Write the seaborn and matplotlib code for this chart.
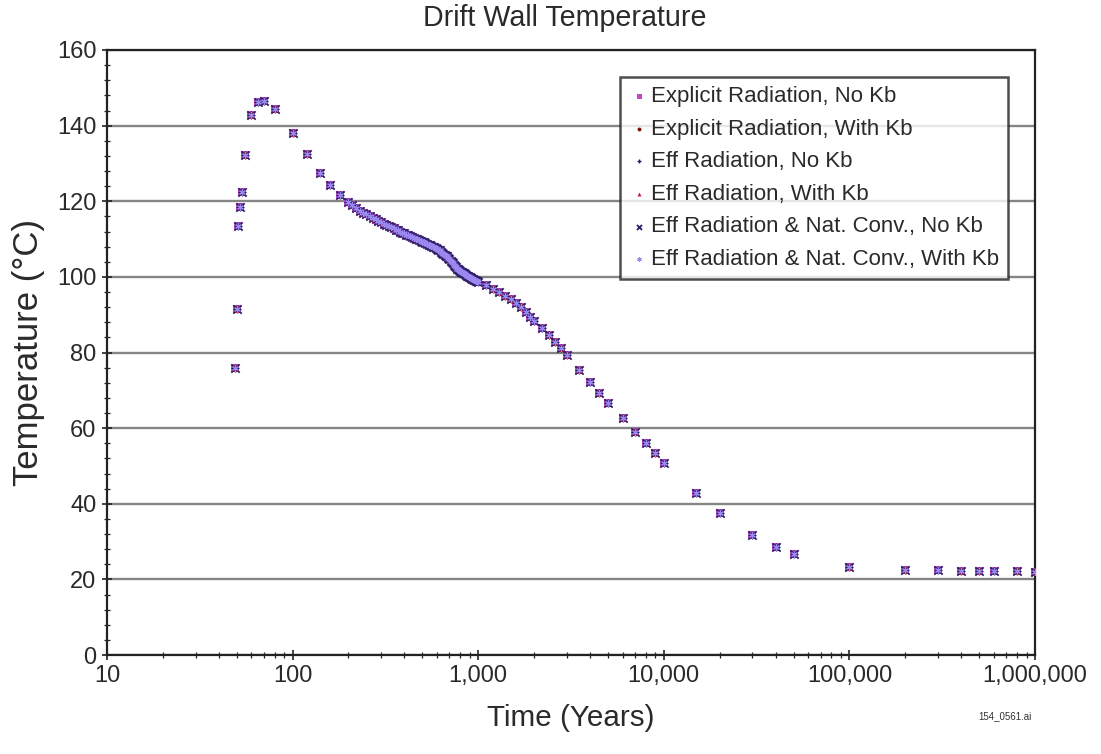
import matplotlib
matplotlib.use("Agg")
import matplotlib.pyplot as plt
import seaborn as sns
from matplotlib.ticker import FuncFormatter, LogLocator, MultipleLocator, NullFormatter

# ---------------- data ----------------
years_early = [49, 50.2, 50.8, 52, 53.5, 55.5, 60, 65, 70, 80, 100, 120, 140, 160, 180]
temps_early = [76.0, 91.5, 113.5, 118.5, 122.5, 132.3, 142.9, 146.3, 146.4, 144.3,
               138.0, 132.4, 127.6, 124.4, 121.7]

years_mid = [200, 210, 220, 230, 240, 250, 260, 270, 280, 290,
             300, 310, 320, 330, 340, 350, 360, 370, 380, 390,
             400, 410, 420, 430, 440, 450, 460, 470, 480, 490,
             500, 510, 520, 530, 540, 550, 560, 570, 580, 590,
             600, 610, 620, 630, 640, 650, 660, 670, 680, 690,
             700, 710, 720, 730, 740, 750, 760, 770, 780, 790,
             800, 810, 820, 830, 840, 850, 860, 870, 880, 890,
             900, 910, 920, 930, 940, 950, 960, 970, 980, 990, 1000]
temps_mid = [119.7, 118.9, 118.2, 117.5, 117.0, 116.6, 116.1, 115.7, 115.2, 114.8,
             114.5, 114.1, 113.8, 113.4, 113.2, 112.8, 112.5, 112.3, 112.0, 111.7,
             111.5, 111.2, 111.0, 110.8, 110.6, 110.3, 110.1, 109.9, 109.7, 109.5,
             109.3, 109.1, 108.9, 108.7, 108.5, 108.4, 108.2, 108.0, 107.8, 107.7,
             107.5, 107.2, 107.0, 106.7, 106.4, 106.1, 105.9, 105.6, 105.4, 105.0,
             104.6, 104.3, 103.9, 103.6, 103.2, 102.9, 102.5, 102.2, 102.0, 101.8,
             101.6, 101.4, 101.2, 101.0, 100.9, 100.7, 100.5, 100.3, 100.2, 100.0,
             99.9, 99.8, 99.6, 99.5, 99.4, 99.2, 99.1, 99.0, 98.9, 98.8, 98.7]

years_late = [1100, 1200, 1300, 1400, 1500, 1600, 1700, 1800, 1900, 2000,
              2200, 2400, 2600, 2800, 3000, 3500, 4000, 4500, 5000,
              6000, 7000, 8000, 9000, 10000, 15000, 20000, 30000, 40000, 50000,
              100000, 200000, 300000, 400000, 500000, 600000, 800000, 1000000]
temps_late = [97.9, 96.9, 96.0, 94.9, 94.1, 93.0, 92.0, 90.8, 89.5, 88.3,
              86.5, 84.7, 82.8, 81.2, 79.4, 75.4, 72.2, 69.3, 66.7,
              62.7, 59.0, 56.1, 53.4, 50.8, 42.9, 37.6, 31.7, 28.6, 26.8,
              23.3, 22.5, 22.5, 22.3, 22.2, 22.2, 22.2, 21.9]

years = years_early + years_mid + years_late
temperature = temps_early + temps_mid + temps_late

series_names = ["Explicit Radiation, No Kb",
                "Explicit Radiation, With Kb",
                "Eff Radiation, No Kb",
                "Eff Radiation, With Kb",
                "Eff Radiation & Nat. Conv., No Kb",
                "Eff Radiation & Nat. Conv., With Kb"]
# all six cases give practically identical curves in the reference
series_temps = [temperature] * 6

x_tick_values = [10, 100, 1000, 10000, 100000, 1000000]
y_tick_values = [0, 20, 40, 60, 80, 100, 120, 140, 160]

# ---------------- styling ----------------
markers = ["s", "o", "+", "^", "x", (6, 2, 0)]
colors = ["#c048c8", "#7a1010", "#1a1a60", "#cc1133", "#2c1f66", "#9a88f0"]
sizes = [36, 22, 30, 22, 36, 16]
lws = [0, 0, 1.0, 0, 1.3, 0.9]

sns.set_theme(style="white")
plt.rcParams["font.family"] = ["Liberation Sans", "DejaVu Sans"]

fig = plt.figure(figsize=(11.01, 7.54), dpi=100)
ax = fig.add_axes([107 / 1101, 1 - 655 / 754, 928 / 1101, 605 / 754])

for name, temps, mk, col, sz, lw in zip(series_names, series_temps, markers, colors, sizes, lws):
    sns.scatterplot(x=years, y=temps, ax=ax, marker=mk, color=col, s=sz,
                    linewidth=lw, label=name, zorder=3)

ax.set_xscale("log")
ax.set_xlim(10, 1e6)
ax.set_ylim(0, 160)
ax.set_xticks(x_tick_values)
ax.xaxis.set_major_formatter(FuncFormatter(lambda v, p: f"{int(round(v)):,}"))
ax.xaxis.set_minor_locator(LogLocator(base=10, subs=range(2, 10)))
ax.xaxis.set_minor_formatter(NullFormatter())
ax.set_yticks(y_tick_values)
ax.yaxis.set_minor_locator(MultipleLocator(4))

ax.grid(False)
ax.yaxis.grid(True, which="major", color="#858585", linewidth=1.7)
ax.set_axisbelow(True)
for sp in ax.spines.values():
    sp.set_visible(True)
    sp.set_color("#222222")
    sp.set_linewidth(1.6)

ax.tick_params(axis="both", which="major", direction="inout", length=7, width=1.2,
               colors="#222222", labelsize=17, labelcolor="#2a2a2a", pad=4,
               bottom=True, left=True)
ax.tick_params(axis="both", which="minor", direction="inout", length=4, width=0.9,
               colors="#222222", bottom=True, left=True)

ax.set_xlabel("Time (Years)", fontsize=21.3, color="#2a2a2a", labelpad=12)
ax.set_ylabel("Temperature (°C)", fontsize=25, color="#2a2a2a", labelpad=9)
fig.text(565 / 1101, 1 - 18 / 754, "Drift Wall Temperature", fontsize=20.6,
         color="#2a2a2a", ha="center", va="center")
fig.text(1005 / 1101, 1 - 716 / 754, "154_0561.ai", fontsize=7,
         color="#333333", ha="center", va="center")

leg = ax.legend(loc="upper right", bbox_to_anchor=(0.971, 0.955), frameon=True,
                fancybox=False, edgecolor="#222222", fontsize=16, markerscale=0.6,
                handletextpad=0.1, borderpad=0.4, labelspacing=0.52,
                handlelength=0.9, borderaxespad=0)
leg.get_frame().set_linewidth(1.8)
for t in leg.get_texts():
    t.set_color("#2a2a2a")

fig.savefig("out.png", dpi=100)
